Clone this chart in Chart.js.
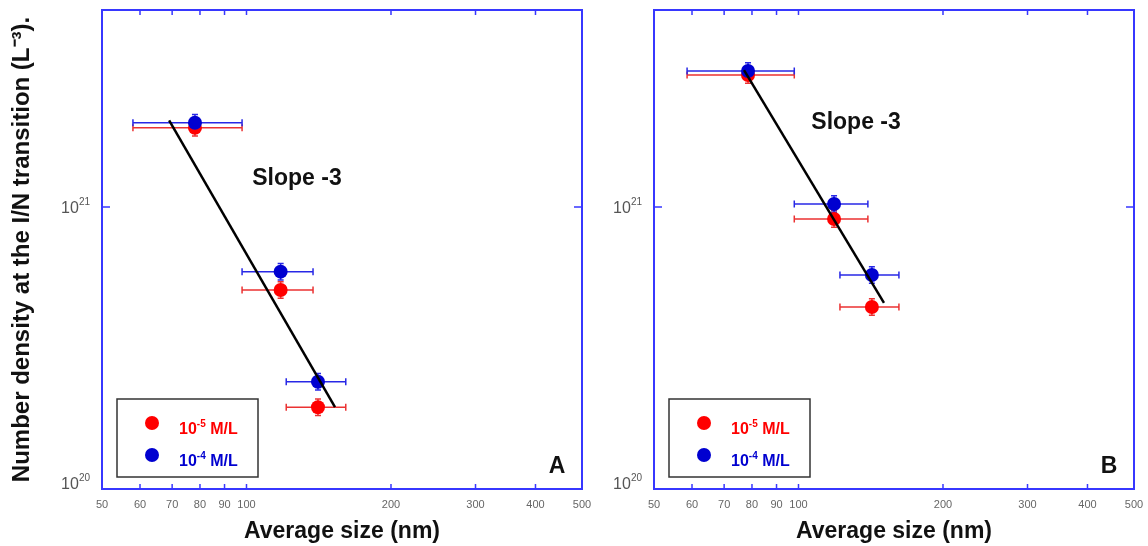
<!DOCTYPE html>
<html>
<head>
<meta charset="utf-8">
<script src="https://cdn.jsdelivr.net/npm/chart.js@4.4.1/dist/chart.umd.min.js"></script>
<style>
  html, body { margin: 0; padding: 0; background: #fff; }
  #wrap { position: relative; width: 1148px; height: 546px; }
  .pane { position: absolute; top: 0; height: 546px; }
</style>
</head>
<body>
<div id="wrap">
  <div class="pane" style="left:0;width:592px"><canvas id="chartA" width="592" height="546"></canvas></div>
  <div class="pane" style="left:592px;width:556px"><canvas id="chartB" width="556" height="546"></canvas></div>
</div>
<script>
const FONT = '"Liberation Sans", Arial, sans-serif';

// axes
const xTicks = [50, 60, 70, 80, 90, 100, 200, 300, 400, 500];
const yTicks = [1e20, 1e21];
const yErr = 0.07; // relative vertical error bar

// legend
const seriesColors = ['#ff0000', '#0000d0'];
const seriesExp = ['-5', '-4'];

// panel A
const sizeA     = [78.1, 117.8, 140.9];
const sizeLowA  = [58.0, 97.9, 121.0];
const sizeHighA = [97.9, 137.6, 161.0];
const redA      = [1.91e21, 5.08e20, 1.95e20];
const blueA     = [1.99e21, 5.90e20, 2.40e20];
const fitXA     = [69.0, 152.9];
const fitYA     = [2.03e21, 1.95e20];

// panel B
const sizeB     = [78.5, 118.6, 142.2];
const sizeLowB  = [58.6, 98.0, 122.0];
const sizeHighB = [98.0, 139.5, 161.9];
const redB      = [2.94e21, 9.07e20, 4.42e20];
const blueB     = [3.04e21, 1.025e21, 5.74e20];
const fitXB     = [77.0, 150.7];
const fitYB     = [3.06e21, 4.57e20];

function pts(xs, ys) { return xs.map((v, i) => ({x: v, y: ys[i]})); }

function supText(ctx, x, y, base, sup, rest, size) {
  // base + superscript + rest, baseline at y
  ctx.textAlign = 'left';
  ctx.textBaseline = 'alphabetic';
  ctx.font = 'bold ' + size + 'px ' + FONT;
  const wb = ctx.measureText(base).width;
  ctx.fillText(base, x, y);
  ctx.font = 'bold ' + Math.round(size * 0.62) + 'px ' + FONT;
  const ws = ctx.measureText(sup).width;
  ctx.fillText(sup, x + wb, y - size * 0.45);
  ctx.font = 'bold ' + size + 'px ' + FONT;
  ctx.fillText(rest, x + wb + ws, y);
}

const panelPlugin = {
  id: 'panel',
  beforeDatasetsDraw(chart, args, opts) {
    const {ctx, scales: {x, y}} = chart;
    opts.errors.forEach(e => {
      ctx.save();
      ctx.strokeStyle = e.color;
      ctx.lineWidth = 1.5;
      e.x.forEach((v, i) => {
        const px = x.getPixelForValue(v);
        const py = y.getPixelForValue(e.y[i]);
        const x1 = x.getPixelForValue(e.lo[i]);
        const x2 = x.getPixelForValue(e.hi[i]);
        const y1 = y.getPixelForValue(e.y[i] * (1 + yErr));
        const y2 = y.getPixelForValue(e.y[i] / (1 + yErr));
        ctx.beginPath();
        ctx.moveTo(x1, py); ctx.lineTo(x2, py);
        ctx.moveTo(x1, py - 3.5); ctx.lineTo(x1, py + 3.5);
        ctx.moveTo(x2, py - 3.5); ctx.lineTo(x2, py + 3.5);
        ctx.moveTo(px, y1); ctx.lineTo(px, y2);
        ctx.moveTo(px - 3, y1); ctx.lineTo(px + 3, y1);
        ctx.moveTo(px - 3, y2); ctx.lineTo(px + 3, y2);
        ctx.stroke();
      });
      ctx.restore();
    });
  },
  afterDraw(chart, args, opts) {
    const {ctx, chartArea: ca, scales: {x, y}} = chart;
    ctx.save();
    // frame
    ctx.strokeStyle = 'rgb(55,55,255)';
    ctx.lineWidth = 2;
    ctx.strokeRect(ca.left, ca.top, ca.width, ca.height);
    // inward ticks
    ctx.lineWidth = 1.5;
    ctx.beginPath();
    xTicks.slice(1, -1).forEach(v => {
      const px = x.getPixelForValue(v);
      ctx.moveTo(px, ca.bottom); ctx.lineTo(px, ca.bottom - 5);
      ctx.moveTo(px, ca.top); ctx.lineTo(px, ca.top + 5);
    });
    yTicks.slice(1).forEach(v => {
      const py = y.getPixelForValue(v);
      ctx.moveTo(ca.left, py); ctx.lineTo(ca.left + 8, py);
      ctx.moveTo(ca.right, py); ctx.lineTo(ca.right - 8, py);
    });
    ctx.stroke();
    // y tick labels with superscript
    ctx.fillStyle = '#555';
    yTicks.forEach((v, i) => {
      let py = y.getPixelForValue(v);
      if (i === 0) py -= 6;
      const ex = String(Math.round(Math.log10(v)));
      ctx.font = '16px ' + FONT;
      const wb = ctx.measureText('10').width;
      ctx.font = '10px ' + FONT;
      const ws = ctx.measureText(ex).width;
      const xr = ca.left - 12;
      ctx.textBaseline = 'alphabetic';
      ctx.textAlign = 'left';
      ctx.font = '16px ' + FONT;
      ctx.fillText('10', xr - ws - wb, py + 6);
      ctx.font = '10px ' + FONT;
      ctx.fillText(ex, xr - ws, py - 2);
    });
    // legend
    const lx = ca.left + 15, ly = ca.bottom - 90;
    ctx.strokeStyle = '#333';
    ctx.lineWidth = 1.5;
    ctx.strokeRect(lx, ly, 141, 78);
    seriesColors.forEach((c, i) => {
      const my = ca.bottom - 66 + i * 32;
      ctx.fillStyle = c;
      ctx.beginPath();
      ctx.arc(ca.left + 50, my, 7, 0, Math.PI * 2);
      ctx.fill();
      supText(ctx, ca.left + 77, my + 11, '10', seriesExp[i], ' M/L', 16);
    });
    // slope label
    ctx.fillStyle = '#111';
    ctx.font = 'bold 23px ' + FONT;
    ctx.textAlign = 'center';
    ctx.textBaseline = 'middle';
    ctx.fillText('Slope -3', x.getPixelForValue(opts.slopeAt[0]), y.getPixelForValue(opts.slopeAt[1]));
    // panel letter
    ctx.fillText(opts.letter, ca.right - 25, ca.bottom - 22);
    ctx.restore();
  }
};

function makePanel(id, p) {
  return new Chart(document.getElementById(id), {
    type: 'scatter',
    data: {
      datasets: [
        { data: pts(p.fitX, p.fitY), showLine: true, borderColor: '#000', borderWidth: 2.5, pointRadius: 0 },
        { data: pts(p.size, p.blue), backgroundColor: seriesColors[1], borderColor: seriesColors[1], pointRadius: 7, pointBorderWidth: 0 },
        { data: pts(p.size, p.red), backgroundColor: seriesColors[0], borderColor: seriesColors[0], pointRadius: 7, pointBorderWidth: 0 }
      ]
    },
    options: {
      responsive: false,
      animation: false,
      layout: { padding: { left: 0, right: p.padRight, top: 10, bottom: 0 } },
      plugins: {
        legend: { display: false },
        tooltip: { enabled: false },
        panel: {
          letter: p.letter,
          slopeAt: p.slopeAt,
          errors: [
            { color: 'rgb(235,50,50)', x: p.size, y: p.red, lo: p.lo, hi: p.hi },
            { color: 'rgb(40,40,230)', x: p.size, y: p.blue, lo: p.lo, hi: p.hi }
          ]
        }
      },
      scales: {
        x: {
          type: 'logarithmic', min: 50, max: 500,
          grid: { display: false, drawTicks: false },
          border: { display: false },
          afterBuildTicks: s => { s.ticks = xTicks.map(v => ({ value: v })); },
          afterFit: s => { s.height = 57; s.paddingLeft = 0; s.paddingRight = 0; },
          ticks: { autoSkip: false, maxRotation: 0, padding: 9, color: '#666',
                   font: { size: 11, family: FONT }, callback: v => String(v) },
          title: { display: true, text: 'Average size (nm)', color: '#111',
                   font: { size: 23, weight: 'bold', family: FONT }, padding: { top: 0, bottom: 1 } }
        },
        y: {
          type: 'logarithmic', min: 1e20, max: 5e21,
          grid: { display: false, drawTicks: false },
          border: { display: false },
          afterBuildTicks: s => { s.ticks = yTicks.map(v => ({ value: v })); },
          afterFit: s => { s.width = p.axisWidth; s.paddingTop = 0; s.paddingBottom = 0; },
          ticks: { display: false },
          title: { display: p.showTitle, text: 'Number density at the I/N transition (L\u207B\u00B3).', color: '#111',
                   font: { size: 24, weight: 'bold', family: FONT }, padding: { top: 8, bottom: 0 } }
        }
      }
    },
    plugins: [panelPlugin]
  });
}

makePanel('chartA', {
  size: sizeA, lo: sizeLowA, hi: sizeHighA, red: redA, blue: blueA, fitX: fitXA, fitY: fitYA,
  letter: 'A', slopeAt: [127.4, 1.26e21], padRight: 10, axisWidth: 102, showTitle: true
});
makePanel('chartB', {
  size: sizeB, lo: sizeLowB, hi: sizeHighB, red: redB, blue: blueB, fitX: fitXB, fitY: fitYB,
  letter: 'B', slopeAt: [131.8, 1.99e21], padRight: 14, axisWidth: 62, showTitle: false
});
</script>
</body>
</html>
